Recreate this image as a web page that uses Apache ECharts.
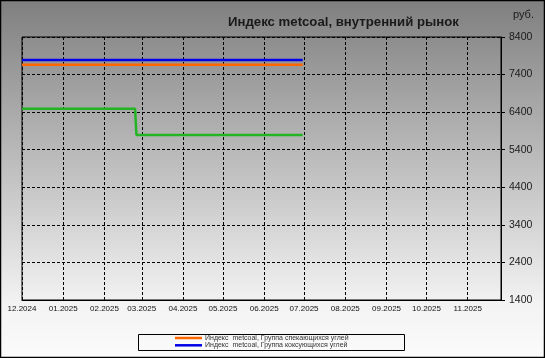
<!DOCTYPE html>
<html>
<head>
<meta charset="utf-8">
<script src="https://cdn.jsdelivr.net/npm/echarts@6/dist/echarts.min.js"></script>
<style>
html,body{margin:0;padding:0;background:#fff;}
#c{width:545px;height:358px;}
</style>
</head>
<body>
<div id="c"></div>
<script>
// ---- data ----
var titleText = 'Индекс metcoal, внутренний рынок';
var unitText = 'руб.';
var seriesNames = ['Индекс  metcoal, Группа спекающихся углей', 'Индекс  metcoal, Группа коксующихся углей', 'Индекс  metcoal, прочие'];
var sinterDates = ['2024-12-01', '2025-06-30'];
var sinterValues = [7660, 7660];
var cokingDates = ['2024-12-01', '2025-06-30'];
var cokingValues = [7790, 7790];
var otherDates = ['2024-12-01', '2025-02-24', '2025-02-25', '2025-06-30'];
var otherValues = [6490, 6490, 5790, 5790];
var xMin = '2024-12-01';
var xMax = '2025-11-26';
var yMin = 1400, yMax = 8400, yStep = 1000;

function pairs(d, v) { return d.map(function (x, i) { return [x, v[i]]; }); }

var FONT = 'Arial, "Liberation Sans", sans-serif';
var chart = echarts.init(document.getElementById('c'), null, {renderer: 'canvas'});
chart.setOption({
  animation: false,
  backgroundColor: {
    type: 'linear', x: 0, y: 0, x2: 0, y2: 1,
    colorStops: [{offset: 0, color: '#7f7f7f'}, {offset: 0.85, color: '#f3f3f3'}, {offset: 1, color: '#fbfbfb'}]
  },
  title: {
    text: titleText, left: 228, top: 16, padding: 0,
    textStyle: {fontFamily: FONT, fontSize: 13.2, fontWeight: 'bold', color: '#1a1a1a'}
  },
  legend: {
    data: [seriesNames[0], seriesNames[1]],
    orient: 'vertical', left: 175, top: 334.5, padding: 0,
    itemGap: 0.3, itemWidth: 27, itemHeight: 2.5, icon: 'rect',
    textStyle: {fontFamily: FONT, fontSize: 7, lineHeight: 7, color: '#333', padding: [0, 0, 0, -2]}
  },
  grid: {left: 22, right: 44, top: 37, bottom: 58, show: true, borderColor: '#000', borderWidth: 1, backgroundColor: 'transparent'},
  xAxis: {
    type: 'time', min: xMin, max: xMax,
    minInterval: 28 * 86400000, maxInterval: 31 * 86400000,
    axisLine: {show: true, lineStyle: {color: '#000', width: 1}},
    axisTick: {show: false},
    splitLine: {show: true, lineStyle: {color: '#000', type: [3, 2], width: 1}},
    axisLabel: {formatter: '{MM}.{yyyy}', fontFamily: FONT, fontSize: 8, color: '#111', margin: 5, showMaxLabel: false, hideOverlap: false}
  },
  yAxis: {
    type: 'value', position: 'right', min: yMin, max: yMax, interval: yStep,
    axisLine: {show: true, lineStyle: {color: '#000', width: 1}},
    axisTick: {show: true, length: 4, lineStyle: {color: '#000'}},
    splitLine: {show: true, lineStyle: {color: '#000', type: [3, 2], width: 1}},
    axisLabel: {fontFamily: FONT, fontSize: 10.5, color: '#1a1a1a', margin: 8, formatter: function (v) { return String(v); }}
  },
  graphic: [
    {type: 'rect', shape: {x: 138.5, y: 334.5, width: 266, height: 16}, style: {fill: 'transparent', stroke: '#000', lineWidth: 1}, z: 10},
    {type: 'rect', shape: {x: 0.5, y: 0.5, width: 544, height: 357}, style: {fill: 'transparent', stroke: '#000', lineWidth: 1.5}, z: 10},
    {type: 'text', left: 513, top: 9, style: {text: unitText, font: '11px ' + FONT, fill: '#1a1a1a'}}
  ],
  series: [
    {name: seriesNames[0], type: 'line', data: pairs(sinterDates, sinterValues), showSymbol: false, symbol: 'none', lineStyle: {color: '#ff6600', width: 2.5}, itemStyle: {color: '#ff6600'}},
    {name: seriesNames[1], type: 'line', data: pairs(cokingDates, cokingValues), showSymbol: false, symbol: 'none', lineStyle: {color: '#0000e6', width: 2.5}, itemStyle: {color: '#0000e6'}},
    {name: seriesNames[2], type: 'line', data: pairs(otherDates, otherValues), showSymbol: false, symbol: 'none', lineStyle: {color: '#22b422', width: 2.5}, itemStyle: {color: '#22b422'}}
  ]
});
</script>
</body>
</html>
